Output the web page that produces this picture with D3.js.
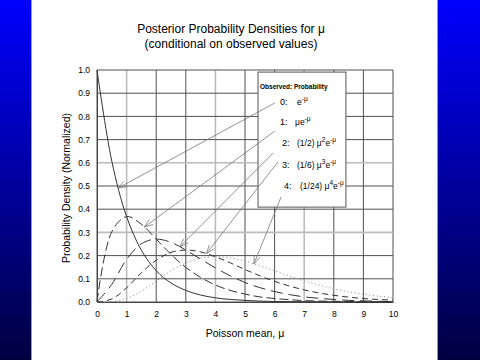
<!DOCTYPE html>
<html><head><meta charset="utf-8">
<script src="https://cdn.jsdelivr.net/npm/d3@7/dist/d3.min.js"></script>
<style>html,body{margin:0;padding:0;background:#fff;}svg{display:block;}</style>
</head><body>
<svg id="c" width="480" height="360"></svg>
<script>
// ---- data ----
const mu = [0,0.5,1,1.5,2,2.5,3,3.5,4,4.5,5,5.5,6,6.5,7,7.5,8,8.5,9,9.5,10];
const obs0 = [1,0.607,0.368,0.223,0.135,0.082,0.050,0.030,0.018,0.011,0.007,0.004,0.002,0.0015,0.001,0.0006,0.0003,0.0002,0.0001,0.0001,0];
const obs1 = [0,0.303,0.368,0.335,0.271,0.205,0.149,0.106,0.073,0.050,0.034,0.022,0.015,0.010,0.006,0.004,0.003,0.002,0.001,0.001,0.0005];
const obs2 = [0,0.076,0.184,0.251,0.271,0.257,0.224,0.185,0.147,0.113,0.084,0.062,0.045,0.032,0.022,0.016,0.011,0.007,0.005,0.003,0.002];
const obs3 = [0,0.013,0.061,0.126,0.180,0.214,0.224,0.216,0.195,0.169,0.140,0.113,0.089,0.069,0.052,0.039,0.029,0.021,0.015,0.011,0.008];
const obs4 = [0,0.002,0.015,0.047,0.090,0.134,0.168,0.189,0.195,0.190,0.176,0.156,0.134,0.112,0.091,0.073,0.057,0.044,0.034,0.025,0.019];
const legendKeys = ["0:","1:","2:","3:","4:"];
const legendExpr = [
  [{t:"e"},{t:"-μ",sup:true}],
  [{t:"μe"},{t:"-μ",sup:true}],
  [{t:"(1/2) μ"},{t:"2",sup:true},{t:"e"},{t:"-μ",sup:true}],
  [{t:"(1/6) μ"},{t:"3",sup:true},{t:"e"},{t:"-μ",sup:true}],
  [{t:"(1/24) μ"},{t:"4",sup:true},{t:"e"},{t:"-μ",sup:true}]
];
// arrow annotations: [startMu, startP, tipMu, tipP]
const arrows = [
  [6.01,0.858,0.71,0.491],
  [6.01,0.737,1.6,0.323],
  [5.95,0.642,2.8,0.238],
  [6.11,0.603,3.7,0.209],
  [6.22,0.453,5.3,0.164]
];
const xTicks = [0,1,2,3,4,5,6,7,8,9,10];
const yTicks = [0,0.1,0.2,0.3,0.4,0.5,0.6,0.7,0.8,0.9,1.0];

const F="Liberation Sans, Arial, sans-serif";
const svg = d3.select("#c");
const defs = svg.append("defs");
const g = defs.append("linearGradient").attr("id","bg").attr("x1",0).attr("y1",0).attr("x2",0).attr("y2",1);
g.append("stop").attr("offset","0%").attr("stop-color","#0000ff");
g.append("stop").attr("offset","100%").attr("stop-color","#000040");
svg.append("rect").attr("width",480).attr("height",360).attr("fill","url(#bg)");
svg.append("rect").attr("x",32).attr("y",0).attr("width",405).attr("height",360).attr("fill","#fff");
svg.append("line").attr("x1",31.5).attr("x2",31.5).attr("y1",0).attr("y2",360).attr("stroke","#8c8cff").attr("stroke-width",1);
svg.append("line").attr("x1",437.5).attr("x2",437.5).attr("y1",0).attr("y2",360).attr("stroke","#8c8cff").attr("stroke-width",1);

const x = d3.scaleLinear().domain([0,10]).range([97,393]);
const y = d3.scaleLinear().domain([0,1]).range([302,70]);

// grid
const light = v => [1,4,7].includes(v);
const lightY = v => [0.3,0.6].some(a=>Math.abs(a-v)<1e-6);
svg.append("g").selectAll("line").data(xTicks).join("line")
  .attr("x1",d=>x(d)).attr("x2",d=>x(d)).attr("y1",y(0)).attr("y2",y(1))
  .attr("stroke",d=>light(d)?"#bcbcbc":"#505050").attr("stroke-width",d=>light(d)?1.6:1);
svg.append("g").selectAll("line").data(yTicks).join("line")
  .attr("x1",x(0)).attr("x2",x(10)).attr("y1",d=>y(d)).attr("y2",d=>y(d))
  .attr("stroke",d=>lightY(d)?"#bcbcbc":"#505050").attr("stroke-width",d=>lightY(d)?1.6:1);

// axes
const ax = svg.append("g").attr("transform",`translate(0,${y(0)})`)
  .call(d3.axisBottom(x).tickValues(xTicks).tickSize(0).tickPadding(9).tickFormat(d3.format("d")));
const ay = svg.append("g").attr("transform",`translate(${x(0)},0)`)
  .call(d3.axisLeft(y).tickValues(yTicks).tickSize(0).tickPadding(7).tickFormat(d3.format(".1f")));
[ax,ay].forEach(a=>{a.select(".domain").attr("stroke","#444");a.selectAll("text").attr("font-family",F).attr("font-size",8.5).attr("fill","#000");});

// curves
const all = [obs0,obs1,obs2,obs3,obs4];
const styles = [
  {c:"#333",d:null,w:1},
  {c:"#333",d:"9,4",w:1},
  {c:"#333",d:"12,6",w:1},
  {c:"#333",d:"6,4",w:1},
  {c:"#999",d:"1.2,2.5",w:1}
];
const line = d3.line().x((d,i)=>x(mu[i])).y(d=>y(d)).curve(d3.curveCatmullRom);
svg.append("g").selectAll("path").data(all).join("path")
  .attr("d",d=>line(d)).attr("fill","none")
  .attr("stroke",(d,i)=>styles[i].c).attr("stroke-width",(d,i)=>styles[i].w)
  .attr("stroke-dasharray",(d,i)=>styles[i].d);

// legend box
const lb = {x0:5.44,x1:8.41,y0:0.991,y1:0.409};
svg.append("rect").attr("x",x(lb.x0)).attr("y",y(lb.y0)).attr("width",x(lb.x1)-x(lb.x0)).attr("height",y(lb.y1)-y(lb.y0))
  .attr("fill","#fff").attr("stroke","#555").attr("stroke-width",1);
svg.append("text").attr("x",x(lb.x0)+2).attr("y",89).attr("font-family",F)
  .attr("font-size",6.5).attr("font-weight","bold").text("Observed: Probability");
const ly = [105,125,146,168,189];
const lkx = [280,280,282,282,284];
const lex = [297,295,297,297,300];
legendKeys.forEach((k,i)=>{
  svg.append("text").attr("x",lkx[i]).attr("y",ly[i]).attr("font-family",F).attr("font-size",9).text(k);
  const t = svg.append("text").attr("x",lex[i]).attr("y",ly[i]).attr("font-family",F).attr("font-size",8.5);
  let raised=false;
  legendExpr[i].forEach(p=>{
    const ts = t.append("tspan").text(p.t);
    if(p.sup){ts.attr("font-size",6.5).attr("dy",raised?0:-4); raised=true;}
    else {if(raised){ts.attr("dy",4);} raised=false;}
  });
});

// arrows
const ag = svg.append("g").attr("stroke","#777").attr("stroke-width",0.8).attr("fill","none");
arrows.forEach(a=>{
  const sx=x(a[0]), sy=y(a[1]), tx=x(a[2]), ty=y(a[3]);
  ag.append("line").attr("x1",sx).attr("y1",sy).attr("x2",tx).attr("y2",ty);
  const ang = Math.atan2(sy-ty, sx-tx), L=9, s=0.35;
  const p1=[tx+L*Math.cos(ang+s), ty+L*Math.sin(ang+s)];
  const p2=[tx+L*Math.cos(ang-s), ty+L*Math.sin(ang-s)];
  ag.append("path").attr("d",`M${p1}L${tx},${ty}L${p2}`);
});

// titles
svg.append("text").attr("x",231).attr("y",33).attr("text-anchor","middle").attr("font-family",F).attr("font-size",12).text("Posterior Probability Densities for μ");
svg.append("text").attr("x",231).attr("y",48).attr("text-anchor","middle").attr("font-family",F).attr("font-size",12).text("(conditional on observed values)");
svg.append("text").attr("x",245).attr("y",337).attr("text-anchor","middle").attr("font-family",F).attr("font-size",10.5).text("Poisson mean, μ");
svg.append("text").attr("transform","translate(70,188) rotate(-90)").attr("text-anchor","middle").attr("font-family",F).attr("font-size",10.5).text("Probability Density (Normalized)");
</script>
</body></html>
